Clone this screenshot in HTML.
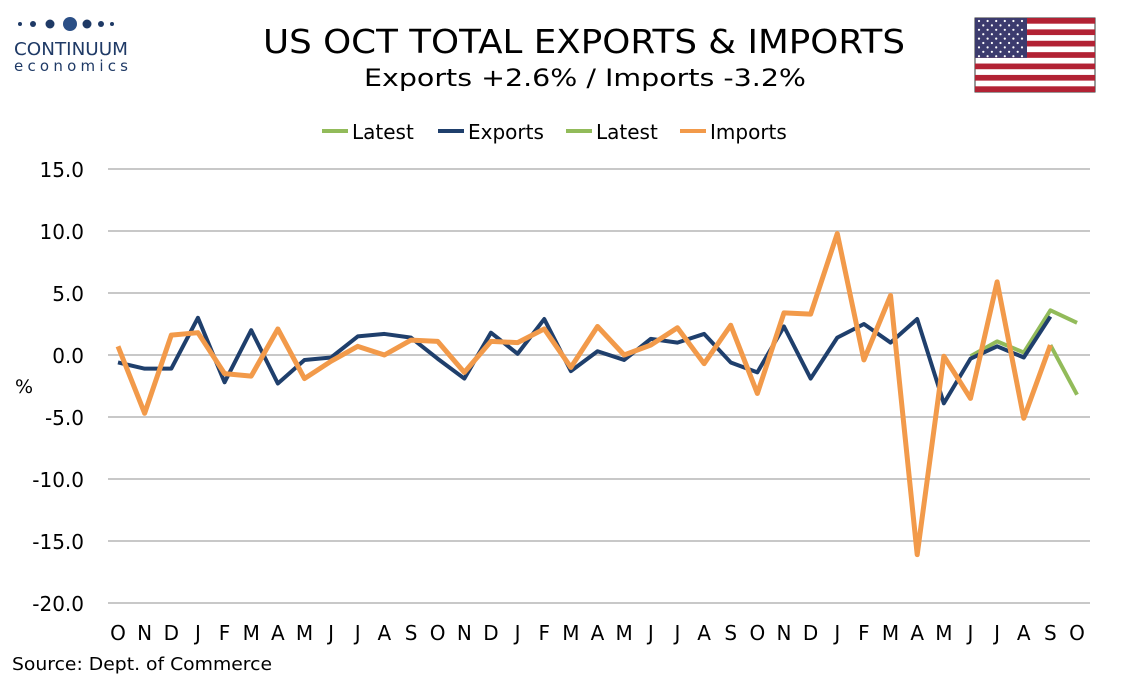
<!DOCTYPE html>
<html><head><meta charset="utf-8"><style>
body{margin:0;background:#fff;width:1134px;height:680px;overflow:hidden;font-family:"DejaVu Sans",sans-serif}
</style></head><body>
<svg id="s" width="1134" height="680" xmlns="http://www.w3.org/2000/svg" font-family="DejaVu Sans, Verdana, sans-serif">
<g fill="#1f3a66">
<circle cx="20" cy="24" r="2"/><circle cx="33" cy="24" r="3"/><circle cx="50" cy="24" r="4.5"/><circle cx="70" cy="24" r="7" fill="#2b4f86"/><circle cx="87" cy="24" r="4.5"/><circle cx="101" cy="24" r="3"/><circle cx="112" cy="24" r="2"/>
</g>
<text x="14" y="55" font-size="18" fill="#1f3a66" textLength="114" lengthAdjust="spacingAndGlyphs">CONTINUUM</text>
<text x="14" y="71" font-size="15" fill="#1f3a66" textLength="114" lengthAdjust="spacing">economics</text>
<text x="263" y="53" font-size="33" fill="#000" textLength="642" lengthAdjust="spacingAndGlyphs">US OCT TOTAL EXPORTS &amp; IMPORTS</text>
<text x="364" y="86" font-size="24" fill="#000" textLength="442" lengthAdjust="spacingAndGlyphs">Exports +2.6% /  Imports -3.2%</text>
<g id="flag"></g>
<g font-size="20" fill="#000">
<line x1="322" y1="131" x2="348" y2="131" stroke="#92bb5a" stroke-width="4"/><text x="352" y="139">Latest</text>
<line x1="438" y1="131" x2="464" y2="131" stroke="#1f3f6c" stroke-width="4"/><text x="468" y="139">Exports</text>
<line x1="566" y1="131" x2="592" y2="131" stroke="#92bb5a" stroke-width="4"/><text x="596" y="139">Latest</text>
<line x1="680" y1="131" x2="706" y2="131" stroke="#f29a4a" stroke-width="4"/><text x="710" y="139">Imports</text>
</g>
<g id="grid"></g>
<text x="15" y="393" font-size="19">%</text>
<text x="12" y="670" font-size="18" textLength="260" lengthAdjust="spacingAndGlyphs">Source: Dept. of Commerce</text>
<g id="lines"></g>
</svg>
<script>
const NS="http://www.w3.org/2000/svg";
function el(p,t,a,txt){const e=document.createElementNS(NS,t);for(const k in a)e.setAttribute(k,a[k]);if(txt!==undefined)e.textContent=txt;document.getElementById(p).appendChild(e);return e;}
const Y=v=>355-v*12.4, X=i=>118+i*26.64;
for(let v=15;v>=-20;v-=5){el("grid","line",{x1:108,x2:1090,y1:Y(v),y2:Y(v),stroke:"#c8c8c8","stroke-width":2});
el("grid","text",{x:84,y:Y(v)+8,"font-size":20,"text-anchor":"end"},v.toFixed(1));}
const labs="ONDJFMAMJJASONDJFMAMJJASONDJFMAMJJASO";
for(let i=0;i<labs.length;i++)el("grid","text",{x:X(i),y:640,"font-size":20,"text-anchor":"middle"},labs[i]);
const imp=[0.7,-4.7,1.6,1.8,-1.5,-1.7,2.1,-1.9,-0.5,0.7,0,1.2,1.1,-1.4,1.1,1.0,2.1,-1.0,2.3,0,0.8,2.2,-0.7,2.4,-3.1,3.4,3.3,9.8,-0.4,4.8,-16.1,-0.1,-3.5,5.9,-5.1,0.8];
const exp=[-0.6,-1.1,-1.1,3.0,-2.2,2.0,-2.3,-0.4,-0.2,1.5,1.7,1.4,-0.3,-1.9,1.8,0.1,2.9,-1.3,0.3,-0.4,1.3,1.0,1.7,-0.6,-1.4,2.3,-1.9,1.4,2.5,1.0,2.9,-3.9,-0.3,0.7,-0.2,3.1];
const pts=(a,o)=>a.map((v,i)=>X(i+o)+","+Y(v)).join(" ");
el("lines","polyline",{points:pts([-0.1,1.1,0.2,3.6,2.6],32),fill:"none",stroke:"#92bb5a","stroke-width":4,"stroke-linejoin":"round"});
el("lines","polyline",{points:pts([0.8,-3.2],35),fill:"none",stroke:"#92bb5a","stroke-width":4});
el("lines","polyline",{points:pts(exp,0),fill:"none",stroke:"#1f3f6c","stroke-width":4,"stroke-linejoin":"round"});
el("lines","polyline",{points:pts(imp,0),fill:"none",stroke:"#f29a4a","stroke-width":5,"stroke-linejoin":"round"});
const fx=975,fy=18,fw=120,fh=74,sh=fh/13;
el("flag","rect",{x:fx,y:fy,width:fw,height:fh,fill:"#fff",stroke:"#333","stroke-width":1});
for(let i=0;i<13;i+=2)el("flag","rect",{x:fx,y:fy+i*sh,width:fw,height:sh,fill:"#b22234"});
el("flag","rect",{x:fx,y:fy,width:52,height:sh*7,fill:"#3c3b6e"});
for(let r=0;r<9;r++)for(let c=0;c<(r%2?5:6);c++)el("flag","circle",{cx:fx+4+c*8.6+(r%2?4.3:0),cy:fy+3+r*4.4,r:1.1,fill:"#fff"});
</script>
</body></html>
